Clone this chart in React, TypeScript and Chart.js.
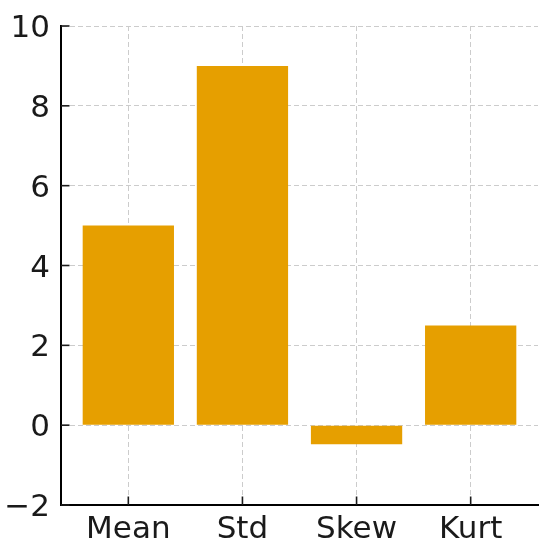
import React, { useEffect, useRef } from "react";
import { Chart, registerables } from "chart.js";

Chart.register(...registerables);

const categories = ["Mean", "Std", "Skew", "Kurt"];
const values = [5, 9, -0.48, 2.5];
const yTicks = [-2, 0, 2, 4, 6, 8, 10];

const FONT = "'DejaVu Sans', sans-serif";

const inwardTicks = {
  id: "inwardTicks",
  afterDraw(chart: any) {
    const { ctx, chartArea, scales } = chart;
    ctx.save();
    ctx.strokeStyle = "#1a1a1a";
    ctx.lineWidth = 1.6;
    const len = 8.5;
    scales.x.ticks.forEach((t: any) => {
      const px = scales.x.getPixelForValue(t.value);
      ctx.beginPath();
      ctx.moveTo(px, chartArea.bottom);
      ctx.lineTo(px, chartArea.bottom - len);
      ctx.stroke();
    });
    scales.y.ticks.forEach((t: any) => {
      const py = scales.y.getPixelForValue(t.value);
      ctx.beginPath();
      ctx.moveTo(chartArea.left, py);
      ctx.lineTo(chartArea.left + len, py);
      ctx.stroke();
    });
    ctx.restore();
  },
};

export default function App() {
  const ref = useRef<HTMLCanvasElement | null>(null);
  useEffect(() => {
    document.body.style.margin = "0";
    const canvas = ref.current!;
    const chart = new Chart(canvas, {
      type: "bar",
      data: {
        datasets: [
          {
            data: values.map((v, i) => ({ x: i, y: v })),
            backgroundColor: "#E69F00",
            borderWidth: 0,
            barPercentage: 0.8,
            categoryPercentage: 1,
          },
        ],
      },
      options: {
        animation: false,
        responsive: false,
        maintainAspectRatio: false,
        layout: { padding: { top: 26, right: 12, left: 0, bottom: 0 } },
        plugins: { legend: { display: false }, tooltip: { enabled: false } },
        scales: {
          x: {
            type: "linear",
            min: -0.59,
            max: 3.59,
            offset: false,
            afterBuildTicks: (scale: any) => {
              scale.ticks = categories.map((_, i) => ({ value: i }));
            },
            afterFit: (scale: any) => {
              scale.height = 46;
              scale.paddingLeft = 0;
              scale.paddingRight = 0;
            },
            ticks: {
              callback: (v: any) => categories[v as number] ?? "",
              font: { family: FONT, size: 31 },
              color: "#1a1a1a",
              padding: 6,
              autoSkip: false,
              maxRotation: 0,
            },
            grid: {
              color: "#cccccc",
              lineWidth: 1,
              drawTicks: false,
              offset: false,
            },
            border: { display: true, color: "#000", width: 2, dash: [5, 3] },
          },
          y: {
            type: "linear",
            min: -2,
            max: 10,
            afterBuildTicks: (scale: any) => {
              scale.ticks = yTicks.map((v) => ({ value: v }));
            },
            afterFit: (scale: any) => {
              scale.width = 61;
              scale.paddingTop = 0;
              scale.paddingBottom = 0;
            },
            ticks: {
              callback: (v: any) => String(v).replace("-", "\u2212"),
              font: { family: FONT, size: 31 },
              color: "#1a1a1a",
              padding: 11,
              labelOffset: 3,
            },
            grid: {
              color: "#cccccc",
              lineWidth: 1,
              drawTicks: false,
            },
            border: { display: true, color: "#000", width: 2, dash: [5, 3] },
          },
        },
      },
      plugins: [inwardTicks],
    } as any);
    return () => chart.destroy();
  }, []);
  return <canvas ref={ref} width={550} height={551} style={{ display: "block" }} />;
}
